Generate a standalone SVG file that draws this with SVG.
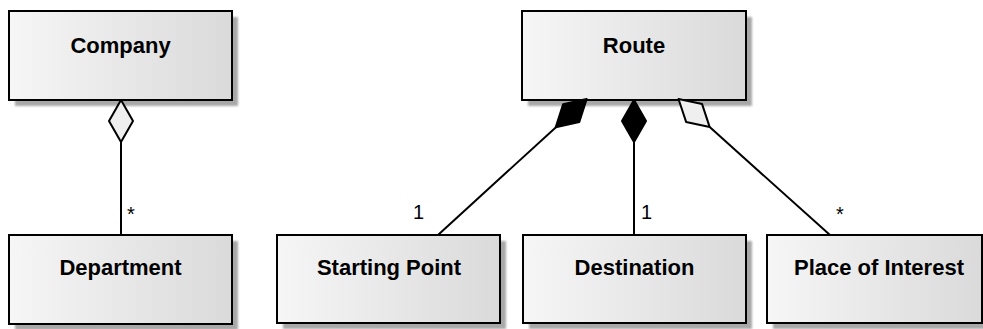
<svg xmlns="http://www.w3.org/2000/svg" width="983" height="329" viewBox="0 0 983 329">
<defs>
<linearGradient id="g" x1="0" y1="0" x2="1" y2="0">
<stop offset="0" stop-color="#f6f6f6"/>
<stop offset="1" stop-color="#dadada"/>
</linearGradient>
<filter id="blur" x="-10%" y="-10%" width="120%" height="120%"><feGaussianBlur stdDeviation="1.2"/></filter>
</defs>
<style>
.shadow{fill:#a8a8a8;filter:url(#blur)}
.box{fill:url(#g);stroke:#000;stroke-width:2}
.name{font-family:"Liberation Sans",Arial,sans-serif;font-weight:bold;font-size:22px;text-anchor:middle;fill:#000}
.edge{fill:none;stroke:#000;stroke-width:2}
.comp{fill:#000;stroke:#000;stroke-width:2;stroke-linejoin:round}
.agg{fill:#efefef;stroke:#000;stroke-width:2;stroke-linejoin:round}
.mult{font-family:"Liberation Sans",Arial,sans-serif;font-size:20px;fill:#000}
</style>
<g id="company">
<rect class="shadow" x="15" y="17" width="223" height="89"/>
<rect class="box" x="9" y="11" width="223" height="89"/>
<text class="name" x="120.5" y="53">Company</text>
</g>
<g id="department">
<rect class="shadow" x="15" y="241" width="223" height="89"/>
<rect class="box" x="9" y="235" width="223" height="89"/>
<text class="name" x="120.5" y="275">Department</text>
</g>
<g id="route">
<rect class="shadow" x="528" y="17" width="224" height="89"/>
<rect class="box" x="522" y="11" width="224" height="89"/>
<text class="name" x="634" y="53">Route</text>
</g>
<g id="starting-point">
<rect class="shadow" x="283" y="241" width="223" height="88"/>
<rect class="box" x="277" y="235" width="223" height="88"/>
<text class="name" x="389" y="275">Starting Point</text>
</g>
<g id="destination">
<rect class="shadow" x="529" y="241" width="223" height="88"/>
<rect class="box" x="523" y="235" width="223" height="88"/>
<text class="name" x="634.5" y="275">Destination</text>
</g>
<g id="place-of-interest">
<rect class="shadow" x="773" y="241" width="215" height="88"/>
<rect class="box" x="767" y="235" width="215" height="88"/>
<text class="name" x="879" y="275">Place of Interest</text>
</g>
<g id="connectors">
<path class="edge" d="M121,142 L121,235"/>
<polygon class="agg" points="121,100 133,121 121,142 109,121"/>
<path class="edge" d="M555.7,127.4 L438,235"/>
<polygon class="comp" points="586.7,99 579.3,122 555.7,127.4 563.1,104.3"/>
<path class="edge" d="M634,142 L634,235"/>
<polygon class="comp" points="634,100 646,121 634,142 622,121"/>
<path class="edge" d="M709.7,127.1 L830,235"/>
<polygon class="agg" points="678.5,99 702.1,104.1 709.7,127.1 686.1,121.9"/>
<text class="mult" x="127" y="221">*</text>
<text class="mult" x="413" y="219">1</text>
<text class="mult" x="641" y="219">1</text>
<text class="mult" x="836" y="221">*</text>
</g>
</svg>
